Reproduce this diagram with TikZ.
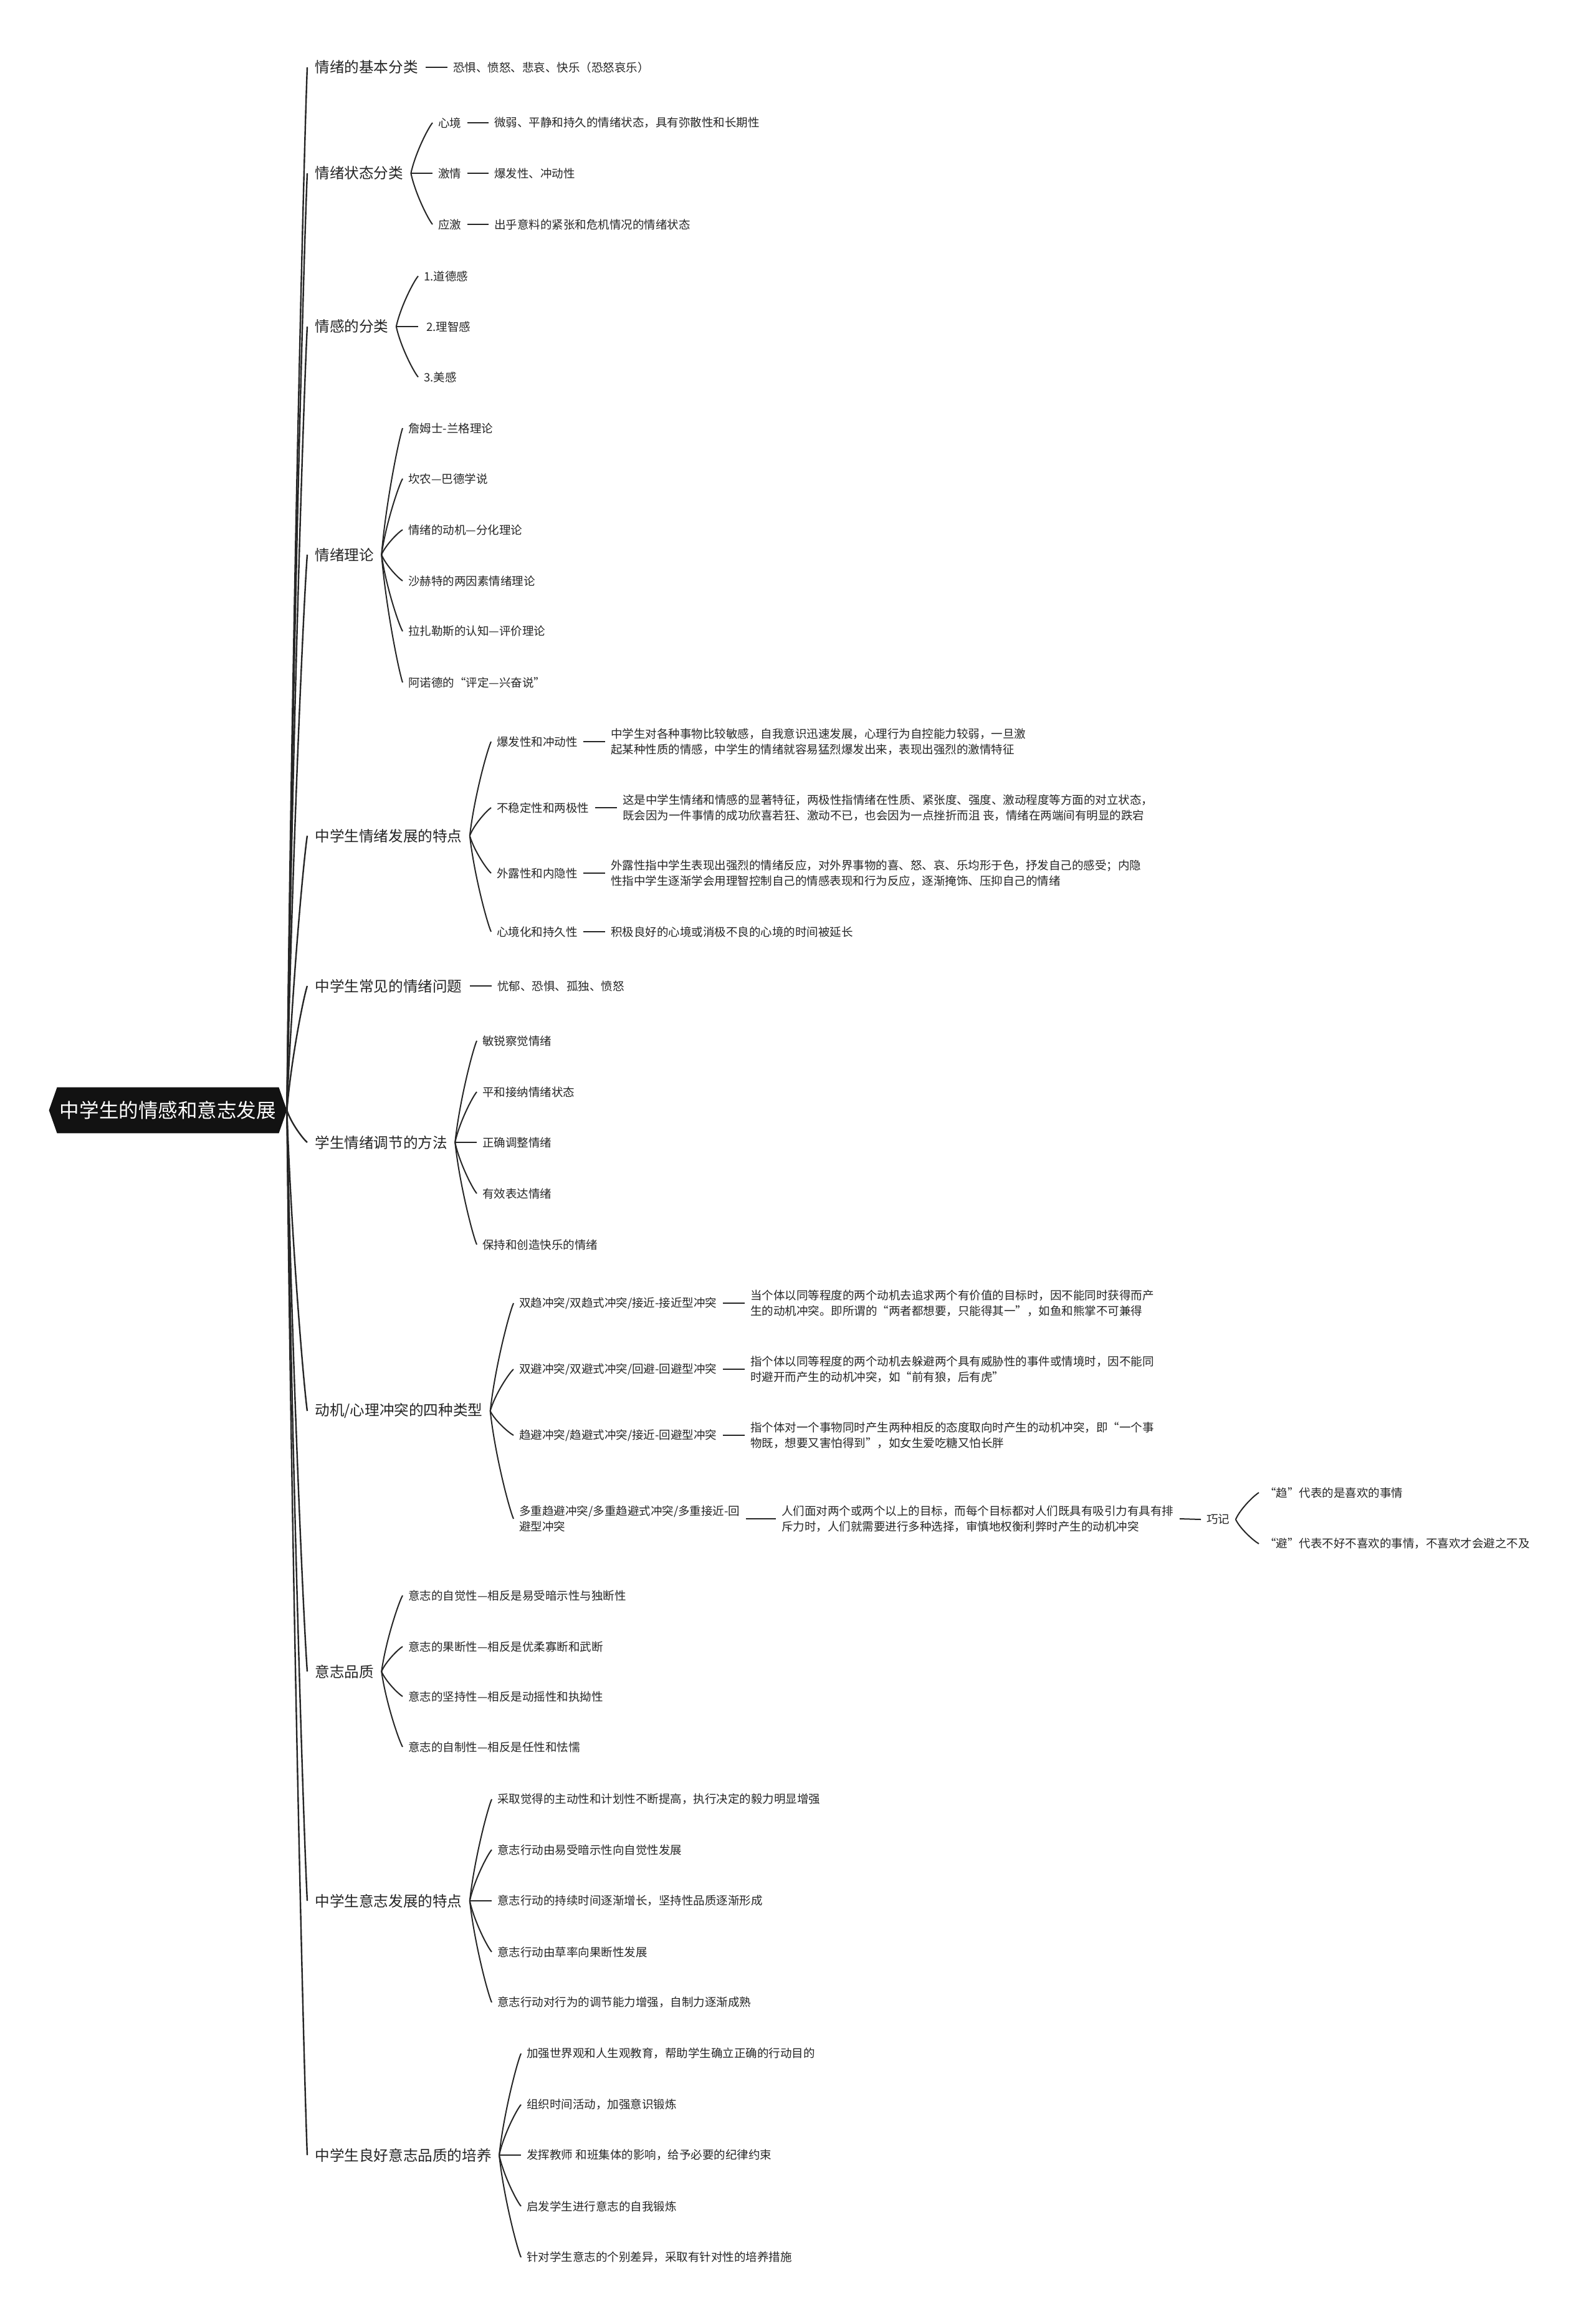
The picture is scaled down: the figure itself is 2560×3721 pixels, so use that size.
\documentclass[tikz,border=0pt]{standalone}
\usepackage{graphicx}
\usepackage{fontspec}
\setmainfont{Noto Sans CJK SC}
\usetikzlibrary{calc,backgrounds}
\definecolor{txt}{HTML}{262626}
\definecolor{rootc}{HTML}{121212}
\newcommand\brc[3][]{\draw[conn,#1] let \p1=(#2), \p2=(#3) in (\p1) .. controls ({\x1+0.2*(\x2-\x1)},{\y1+0.4*(\y2-\y1)}) and ({\x2-0.2*(\x2-\x1)},{\y2-0.1*(\y2-\y1)}) .. (\p2);}
\tikzset{
 conn/.style={draw=txt, line width=1pt},
 trunk/.style={line width=1.2pt},
 lone/.style={anchor=west, inner xsep=6pt, inner ysep=2pt, text=txt, font=\fontsize{11.8}{14}\selectfont},
 ltwo/.style={anchor=west, inner xsep=4.5pt, inner ysep=2pt, text=txt, font=\fontsize{9.25}{12.3}\selectfont, align=left},
 rootnode/.style={text=white, font=\fontsize{17.4}{20}\selectfont, minimum width=177.5pt, minimum height=36.5pt, inner sep=0pt},
}
\begin{document}
\begin{tikzpicture}[x=0.5pt,y=-0.5pt]
\useasboundingbox (0,0) rectangle (2560,3721);
% root
\node[rootnode] (root) at (269.5,1781.5) {\resizebox{173.5pt}{!}{中学生的情感和意志发展}};
\begin{scope}[on background layer]
\fill[white] (0,0) rectangle (2560,3721);
\fill[rootc] (root.north west) -- (root.north east) -- ([xshift=6.5pt]root.east) -- (root.south east) -- (root.south west) -- ([xshift=-6.5pt]root.west) -- cycle;
\end{scope}
\coordinate (rt) at ([xshift=6.5pt]root.east);

% level 1
\node[lone] (n1) at (493,108) {情绪的基本分类};
\node[lone] (n2) at (493,278) {情绪状态分类};
\node[lone] (n3) at (493,524) {情感的分类};
\node[lone] (n4) at (493,890) {情绪理论};
\node[lone] (n5) at (493,1341) {中学生情绪发展的特点};
\node[lone] (n6) at (493,1582) {中学生常见的情绪问题};
\node[lone] (n7) at (493,1833) {学生情绪调节的方法};
\node[lone] (n8) at (493,2264) {动机/心理冲突的四种类型};
\node[lone] (n9) at (493,2682) {意志品质};
\node[lone] (n10) at (493,3050) {中学生意志发展的特点};
\node[lone] (n11) at (493,3458) {中学生良好意志品质的培养};
\foreach \k in {n1,n2,n3,n4,n5,n6,n7,n8,n9,n10,n11}{\brc[trunk]{rt}{\k.west}}

% branch 1
\node[ltwo] (l1) at (718,108) {恐惧、愤怒、悲哀、快乐（恐怒哀乐）};
\draw[conn] (n1.east) -- (l1.west);

% branch 2
\node[ltwo] (a21) at (694,197) {心境};
\node[ltwo] (a22) at (694,278) {激情};
\node[ltwo] (a23) at (694,360) {应激};
\node[ltwo] (b21) at (784,197) {微弱、平静和持久的情绪状态，具有弥散性和长期性};
\node[ltwo] (b22) at (784,278) {爆发性、冲动性};
\node[ltwo] (b23) at (784,360) {出乎意料的紧张和危机情况的情绪状态};
\foreach \i in {1,2,3}{\brc{n2.east}{a2\i.west}\draw[conn] (a2\i.east) -- (b2\i.west);}

% branch 3
\node[ltwo] (a31) at (671,443) {1.道德感};
\node[ltwo] (a32) at (671,524) {\ 2.理智感};
\node[ltwo] (a33) at (671,605) {3.美感};
\foreach \i in {1,2,3}{\brc{n3.east}{a3\i.west}}

% branch 4
\node[ltwo] (a41) at (646,687) {詹姆士-兰格理论};
\node[ltwo] (a42) at (646,768) {坎农—巴德学说};
\node[ltwo] (a43) at (646,850) {情绪的动机—分化理论};
\node[ltwo] (a44) at (646,932) {沙赫特的两因素情绪理论};
\node[ltwo] (a45) at (646,1013) {拉扎勒斯的认知—评价理论};
\node[ltwo] (a46) at (646,1095) {阿诺德的“评定—兴奋说”};
\foreach \i in {1,...,6}{\brc{n4.east}{a4\i.west}}

% branch 5
\node[ltwo] (a51) at (788,1190) {爆发性和冲动性};
\node[ltwo] (a52) at (788,1296) {不稳定性和两极性};
\node[ltwo] (a53) at (788,1401) {外露性和内隐性};
\node[ltwo] (a54) at (788,1495) {心境化和持久性};
\node[ltwo] (b51) at (971,1190) {中学生对各种事物比较敏感，自我意识迅速发展，心理行为自控能力较弱，一旦激\\起某种性质的情感，中学生的情绪就容易猛烈爆发出来，表现出强烈的激情特征};
\node[ltwo] (b52) at (990,1296) {这是中学生情绪和情感的显著特征，两极性指情绪在性质、紧张度、强度、激动程度等方面的对立状态，\\既会因为一件事情的成功欣喜若狂、激动不已，也会因为一点挫折而沮 丧，情绪在两端间有明显的跌宕};
\node[ltwo] (b53) at (971,1401) {外露性指中学生表现出强烈的情绪反应，对外界事物的喜、怒、哀、乐均形于色，抒发自己的感受；内隐\\性指中学生逐渐学会用理智控制自己的情感表现和行为反应，逐渐掩饰、压抑自己的情绪};
\node[ltwo] (b54) at (971,1495) {积极良好的心境或消极不良的心境的时间被延长};
\foreach \i in {1,...,4}{\brc{n5.east}{a5\i.west}\draw[conn] (a5\i.east) -- (b5\i.west);}

% branch 6
\node[ltwo] (l6) at (789,1582) {忧郁、恐惧、孤独、愤怒};
\draw[conn] (n6.east) -- (l6.west);

% branch 7
\node[ltwo] (a71) at (765,1670) {敏锐察觉情绪};
\node[ltwo] (a72) at (765,1752) {平和接纳情绪状态};
\node[ltwo] (a73) at (765,1833) {正确调整情绪};
\node[ltwo] (a74) at (765,1915) {有效表达情绪};
\node[ltwo] (a75) at (765,1997) {保持和创造快乐的情绪};
\foreach \i in {1,...,5}{\brc{n7.east}{a7\i.west}}

% branch 8
\node[ltwo] (a81) at (824,2091) {双趋冲突/双趋式冲突/接近-接近型冲突};
\node[ltwo] (a82) at (824,2197) {双避冲突/双避式冲突/回避-回避型冲突};
\node[ltwo] (a83) at (824,2303) {趋避冲突/趋避式冲突/接近-回避型冲突};
\node[ltwo] (a84) at (824,2437) {多重趋避冲突/多重趋避式冲突/多重接近-回\\避型冲突};
\node[ltwo] (b81) at (1195,2091) {当个体以同等程度的两个动机去追求两个有价值的目标时，因不能同时获得而产\\生的动机冲突。即所谓的“两者都想要，只能得其一”，如鱼和熊掌不可兼得};
\node[ltwo] (b82) at (1195,2197) {指个体以同等程度的两个动机去躲避两个具有威胁性的事件或情境时，因不能同\\时避开而产生的动机冲突，如“前有狼，后有虎”};
\node[ltwo] (b83) at (1195,2303) {指个体对一个事物同时产生两种相反的态度取向时产生的动机冲突，即“一个事\\物既，想要又害怕得到”，如女生爱吃糖又怕长胖};
\node[ltwo] (b84) at (1245,2437) {人们面对两个或两个以上的目标，而每个目标都对人们既具有吸引力有具有排\\斥力时，人们就需要进行多种选择，审慎地权衡利弊时产生的动机冲突};
\foreach \i in {1,...,4}{\brc{n8.east}{a8\i.west}\draw[conn] (a8\i.east) -- (b8\i.west);}
\node[ltwo] (c84) at (1927,2438) {巧记};
\draw[conn] (b84.east) -- (c84.west);
\node[ltwo] (d1) at (2020,2395) {“趋”代表的是喜欢的事情};
\node[ltwo] (d2) at (2020,2477) {“避”代表不好不喜欢的事情，不喜欢才会避之不及};
\brc{c84.east}{d1.west}
\brc{c84.east}{d2.west}

% branch 9
\node[ltwo] (a91) at (646,2560) {意志的自觉性—相反是易受暗示性与独断性};
\node[ltwo] (a92) at (646,2642) {意志的果断性—相反是优柔寡断和武断};
\node[ltwo] (a93) at (646,2722) {意志的坚持性—相反是动摇性和执拗性};
\node[ltwo] (a94) at (646,2803) {意志的自制性—相反是任性和怯懦};
\foreach \i in {1,...,4}{\brc{n9.east}{a9\i.west}}

% branch 10
\node[ltwo] (a101) at (789,2887) {采取觉得的主动性和计划性不断提高，执行决定的毅力明显增强};
\node[ltwo] (a102) at (789,2968) {意志行动由易受暗示性向自觉性发展};
\node[ltwo] (a103) at (789,3050) {意志行动的持续时间逐渐增长，坚持性品质逐渐形成};
\node[ltwo] (a104) at (789,3132) {意志行动由草率向果断性发展};
\node[ltwo] (a105) at (789,3213) {意志行动对行为的调节能力增强，自制力逐渐成熟};
\foreach \i in {1,...,5}{\brc{n10.east}{a10\i.west}}

% branch 11
\node[ltwo] (a111) at (836,3295) {加强世界观和人生观教育，帮助学生确立正确的行动目的};
\node[ltwo] (a112) at (836,3377) {组织时间活动，加强意识锻炼};
\node[ltwo] (a113) at (836,3458) {发挥教师 和班集体的影响，给予必要的纪律约束};
\node[ltwo] (a114) at (836,3540) {启发学生进行意志的自我锻炼};
\node[ltwo] (a115) at (836,3622) {针对学生意志的个别差异，采取有针对性的培养措施};
\foreach \i in {1,...,5}{\brc{n11.east}{a11\i.west}}
\end{tikzpicture}
\end{document}
